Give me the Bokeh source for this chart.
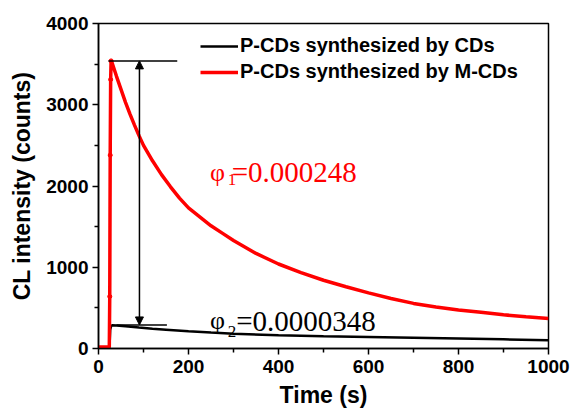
from bokeh.plotting import figure
from bokeh.models import (Range1d, FixedTicker, Legend, LegendItem, Label,
                          Arrow, NormalHead, ColumnDataSource, CDSView, IndexFilter)
from bokeh.embed import file_html
from bokeh.resources import INLINE

# ---- data ----
red_t = [0, 10, 20, 24, 25, 26, 27, 28, 30, 40, 50, 60, 70, 80, 90, 100, 120, 140,
         160, 180, 200, 225, 250, 275, 300, 350, 400, 450, 500, 550, 600, 650, 700,
         750, 800, 850, 900, 950, 1000]
red_v = [20, 20, 20, 20, 640, 2380, 3310, 3540, 3520, 3350, 3190, 3030, 2885, 2750,
         2620, 2500, 2310, 2140, 1990, 1850, 1730, 1620, 1510, 1420, 1330, 1170, 1040,
         935, 840, 760, 685, 615, 555, 510, 475, 445, 415, 390, 368]

black_t = [0, 10, 20, 24, 25, 26, 28, 30, 40, 60, 90, 120, 150, 200, 250, 300, 400,
           500, 600, 700, 800, 900, 1000]
black_v = [0, 0, 0, 0, 90, 230, 275, 285, 283, 273, 258, 244, 232, 212, 196, 182, 164,
           152, 142, 133, 124, 113, 102]

series_labels = ["P-CDs synthesized by CDs", "P-CDs synthesized by M-CDs"]
x_ticks = [0, 200, 400, 600, 800, 1000]
x_minor = [100, 300, 500, 700, 900]
y_ticks = [0, 1000, 2000, 3000, 4000]
y_minor = [500, 1500, 2500, 3500]

phi1_text = ("φ", "1", "=0.000248")
phi2_text = ("φ", "2", "=0.0000348")

SANS = "Liberation Sans"
SERIF = "Liberation Serif"

p = figure(width=571, height=416, x_range=Range1d(0, 1000), y_range=Range1d(0, 4000),
           output_backend="svg", toolbar_location=None,
           min_border_left=98, min_border_right=23, min_border_top=23,
           min_border_bottom=68, background_fill_color="white",
           border_fill_color="white")

p.xgrid.visible = False
p.ygrid.visible = False
p.outline_line_color = "black"
p.outline_line_width = 1.5

p.xaxis.ticker = FixedTicker(ticks=x_ticks, minor_ticks=x_minor)
p.yaxis.ticker = FixedTicker(ticks=y_ticks, minor_ticks=y_minor)

for ax in (p.xaxis[0], p.yaxis[0]):
    ax.axis_line_width = 1.5
    ax.axis_line_color = "black"
    ax.major_tick_line_width = 1.5
    ax.minor_tick_line_width = 1.5
    ax.major_tick_in = 0
    ax.major_tick_out = 6
    ax.minor_tick_in = 0
    ax.minor_tick_out = 4
    ax.major_label_text_font = SANS
    ax.major_label_text_font_style = "bold"
    ax.major_label_text_font_size = "19px"
    ax.major_label_text_color = "black"
    ax.axis_label_text_font = SANS
    ax.axis_label_text_font_style = "bold"
    ax.axis_label_text_font_size = "23px"
    ax.axis_label_text_color = "black"

p.xaxis.axis_label = "Time (s)"
p.yaxis.axis_label = "CL intensity (counts)"
p.xaxis.major_label_standoff = 5
p.yaxis.major_label_standoff = 4
p.xaxis.axis_label_standoff = 6
p.yaxis.axis_label_standoff = 8

black_src = ColumnDataSource(dict(t=black_t, v=black_v))
red_src = ColumnDataSource(dict(t=red_t, v=red_v))

rb = p.line("t", "v", source=black_src, line_color="black", line_width=2.5)
rr = p.line("t", "v", source=red_src, line_color="#ff0000", line_width=3.5)
# markers visible on the steep rise
rise_idx = [i for i in range(1, len(red_v)) if red_v[i] - red_v[i - 1] > 200]
p.scatter("t", "v", source=red_src, view=CDSView(filter=IndexFilter(rise_idx)),
          marker="circle", size=4, line_color="#ff0000", fill_color="#ff0000")

# reference lines at the two peaks and the double arrow between them
peak_red = max(red_v)
peak_black = max(black_v)
arrow_t = 91
p.segment(x0=[22, 40], y0=[peak_red, peak_black + 5], x1=[175, 152],
          y1=[peak_red, peak_black + 5], line_color="black", line_width=1.5)
p.add_layout(Arrow(x_start=arrow_t, y_start=peak_black + 5, x_end=arrow_t,
                   y_end=peak_red,
                   start=NormalHead(size=8, fill_color="black", line_color="black"),
                   end=NormalHead(size=8, fill_color="black", line_color="black"),
                   line_color="black", line_width=1.5))

# legend
dummy_b = p.scatter(x=[], y=[], marker="circle", size=2, color="black")
dummy_r = p.scatter(x=[], y=[], marker="circle", size=5, color="#ff0000")
legend = Legend(items=[LegendItem(label=series_labels[0], renderers=[rb, dummy_b]),
                       LegendItem(label=series_labels[1], renderers=[rr, dummy_r])],
                location=(102, 265), orientation="vertical",
                label_text_font=SANS, label_text_font_style="bold",
                label_text_font_size="20px", label_text_color="black",
                glyph_width=38, glyph_height=22, label_height=22,
                label_standoff=2, spacing=3, padding=0, margin=0,
                background_fill_alpha=0, border_line_alpha=0)
p.add_layout(legend)

# phi annotations
def phi_label(parts, color, t0, base, t_sub, base_sub, t_rest):
    p.add_layout(Label(x=t0, y=base, text=parts[0], text_font=SERIF,
                       text_font_size="26px", text_color=color,
                       text_baseline="alphabetic", text_align="left"))
    p.add_layout(Label(x=t_sub, y=base_sub, text=parts[1], text_font=SERIF,
                       text_font_size="17px", text_color=color,
                       text_baseline="alphabetic", text_align="left"))
    p.add_layout(Label(x=t_rest, y=base, text=parts[2], text_font=SERIF,
                       text_font_size="29px", text_color=color,
                       text_baseline="alphabetic", text_align="left"))

phi_label(phi1_text, "#ff0000", 248, 2169, 287, 2080, 296)
phi_label(phi2_text, "black", 248, 339, 287, 215, 306)

open("out.html", "w").write(file_html(p, INLINE))
